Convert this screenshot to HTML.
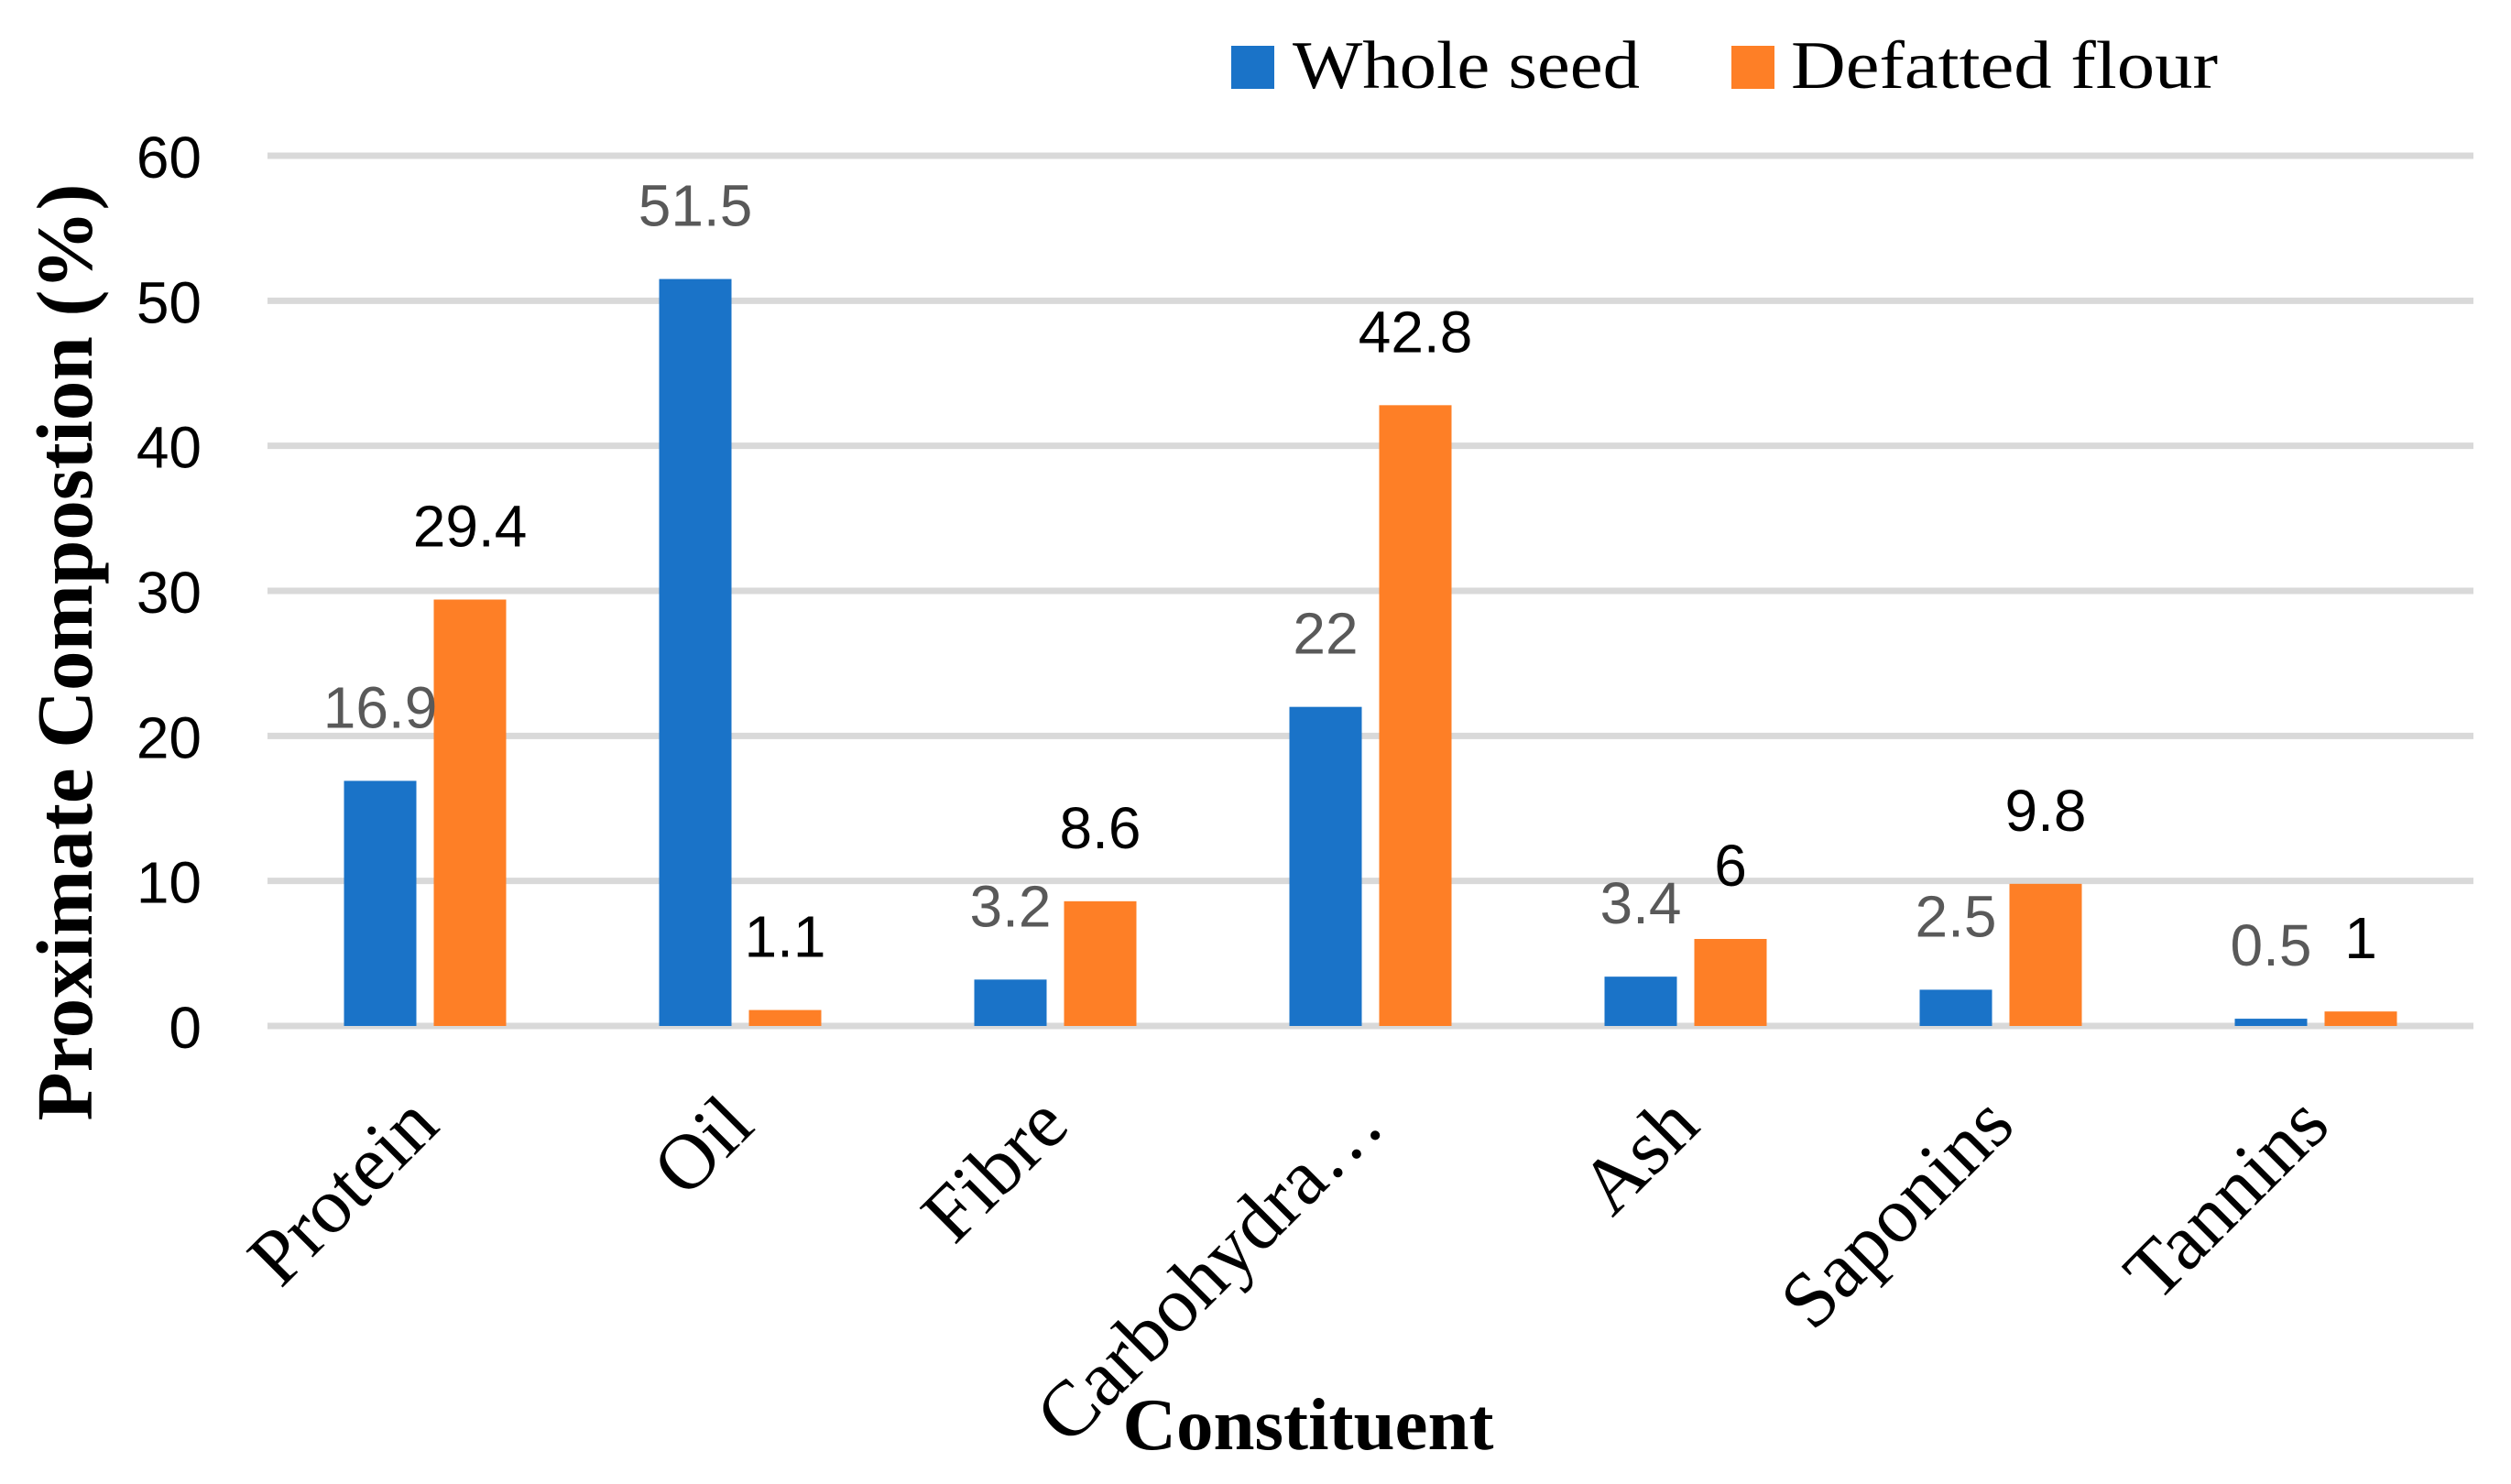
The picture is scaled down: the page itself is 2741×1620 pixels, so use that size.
<!DOCTYPE html>
<html><head><meta charset="utf-8"><style>
html,body{margin:0;padding:0;background:#fff;}
svg{display:block;}
</style></head><body>
<svg id="chart" width="2741" height="1620" viewBox="0 0 2741 1620" xmlns="http://www.w3.org/2000/svg">
<g id="legend">
 <rect x="1344" y="50" width="47" height="47" fill="#1a73c8"/>
 <text x="1411" y="96" font-family="Liberation Serif, serif" font-size="74" textLength="379" lengthAdjust="spacingAndGlyphs">Whole seed</text>
 <rect x="1890" y="50" width="47" height="47" fill="#fe7f26"/>
 <text x="1955" y="96" font-family="Liberation Serif, serif" font-size="74" textLength="466" lengthAdjust="spacingAndGlyphs">Defatted flour</text>
</g>
<g id="grid"></g>
<g id="yticks"></g>
<g id="bars"></g>
<g id="labels"></g>
<g id="xlabels"></g>
<text transform="translate(100,712) rotate(-90)" text-anchor="middle" font-family="Liberation Serif, serif" font-weight="bold" font-size="87">Proximate Compostion (%)</text>
<text x="1428" y="1582" text-anchor="middle" font-family="Liberation Serif, serif" font-weight="bold" font-size="81">Constituent</text>
</svg>
<script>
const categories = ["Protein","Oil","Fibre","Carbohydra\u2026","Ash","Saponins","Tannins"];
const wholeSeed = [16.9, 51.5, 3.2, 22, 3.4, 2.5, 0.5];
const defattedFlour = [29.4, 1.1, 8.6, 42.8, 6, 9.8, 1];
const yTicks = [0,10,20,30,40,50,60];

const NS = "http://www.w3.org/2000/svg";
const plotL = 292, plotR = 2700, y0 = 1120, y60 = 170;
const yMax = 60;
function yScale(v){ return y0 - (v / yMax) * (y0 - y60); }
const catW = (plotR - plotL) / categories.length;
function xCenter(i){ return plotL + catW * (i + 0.5); }
const barW = 79, gap = 19;

function mk(tag, attrs, parent){
  const e = document.createElementNS(NS, tag);
  for (const k in attrs) e.setAttribute(k, attrs[k]);
  parent.appendChild(e);
  return e;
}
const grid = document.getElementById('grid');
const yt = document.getElementById('yticks');
yTicks.forEach(t => {
  const ln = mk('line', {x1: plotL, x2: plotR, y1: yScale(t), y2: yScale(t), stroke: '#d9d9d9', 'stroke-width': 7}, grid);
  
  
  const tx = mk('text', {x: 220, y: yScale(t) + 24, 'text-anchor': 'end', 'font-family': 'Liberation Sans, sans-serif', 'font-size': 64, fill: '#000'}, yt);
  tx.textContent = t;
  
  
});
const bars = document.getElementById('bars');
const labs = document.getElementById('labels');
const xl = document.getElementById('xlabels');
categories.forEach((c, i) => {
  const cx = xCenter(i);
  const series = [[wholeSeed[i], cx - gap/2 - barW, '#1a73c8', '#595959', 'whole-seed'], [defattedFlour[i], cx + gap/2, '#fe7f26', '#000', 'defatted-flour']];
  series.forEach(s => {
    const v = s[0], x = s[1];
    const r = mk('rect', {x: x, y: yScale(v), width: barW, height: y0 - yScale(v), fill: s[2]}, bars);
    
    
    const t = mk('text', {x: x + barW/2, y: yScale(v) - 58, 'text-anchor': 'middle', 'font-family': 'Liberation Sans, sans-serif', 'font-size': 64, fill: s[3]}, labs);
    t.textContent = v;
    
    
  });
  const lx = cx + 18, ly = 1232;
  const t = mk('text', {x: lx, y: ly, 'text-anchor': 'end', transform: 'rotate(-45 ' + lx + ' ' + ly + ')', 'font-family': 'Liberation Serif, serif', 'font-size': 86, fill: '#000'}, xl);
  t.textContent = c;
  
  
});
</script>
</body></html>
